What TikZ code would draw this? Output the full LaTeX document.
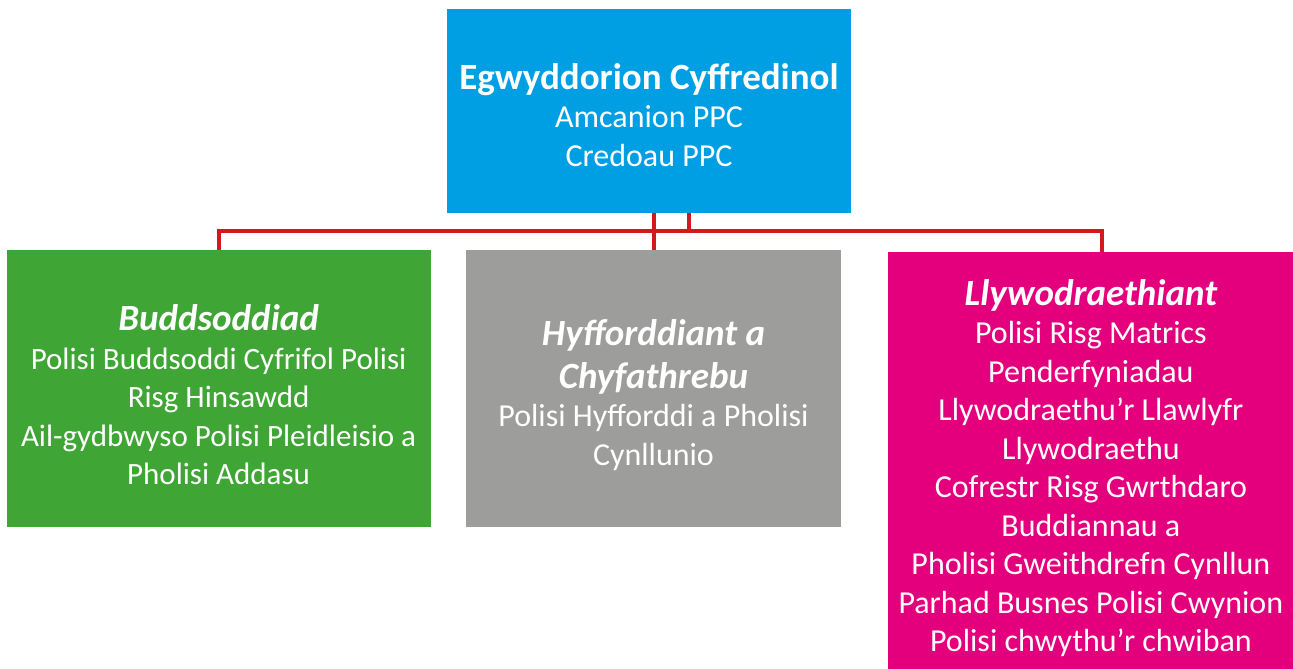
\documentclass[tikz,border=0pt]{standalone}
\usepackage{fontspec}
\setmainfont{Carlito}
\usepackage{xcolor}
\usepackage{tikz}
\usetikzlibrary{positioning}
\definecolor{principlescolor}{RGB}{0, 159, 227}
\definecolor{investcolor}{RGB}{63, 165, 53}
\definecolor{trainingcolor}{RGB}{157, 157, 156}
\definecolor{governcolor}{RGB}{228, 0, 125}
\definecolor{linkcolor}{RGB}{208, 26, 30}
\newcommand{\boxtitle}[1]{{\fontsize{37}{40}\selectfont\bfseries\itshape #1}}
\tikzset{
    org box/.style={rectangle, inner sep=0pt},
    principles box/.style={org box, fill=principlescolor, minimum width=404, minimum height=204},
    invest box/.style={org box, fill=investcolor, minimum width=424, minimum height=277},
    training box/.style={org box, fill=trainingcolor, minimum width=375, minimum height=277},
    govern box/.style={org box, fill=governcolor, minimum width=405, minimum height=417},
    box text/.style={text=white, align=center, inner sep=0pt, font=\fontsize{32}{38.5}\selectfont},
    link/.style={draw=linkcolor, line width=4pt}
}

\begin{document}
\begin{tikzpicture}[x=1pt, y=-1pt]
\useasboundingbox (0,0) rectangle (1293,669);
% Main boxes
\node[principles box] (top) at (649,111) {};
\node[training box, below=37pt of top, xshift=4.5pt] (training) {};
\node[invest box, left=35pt of training] (invest) {};
\node[govern box, right=47pt of training.north east, anchor=north west, yshift=-2pt] (govern) {};

% Box texts
\node[box text] (toptext) at ([yshift=-4pt]top.center) {{\fontsize{37}{40}\selectfont\bfseries Egwyddorion Cyffredinol}\\Amcanion PPC\\Credoau PPC};
\node[box text] (trainingtext) at ([yshift=-6pt]training.center) {\boxtitle{Hyfforddiant a}\\[4pt]\boxtitle{Chyfathrebu}\\Polisi Hyfforddi a Pholisi\\Cynllunio};
\node[box text, font=\fontsize{31}{38.5}\selectfont] (investtext) at ([yshift=-6pt]invest.center) {\boxtitle{Buddsoddiad}\\Polisi Buddsoddi Cyfrifol Polisi\\Risg Hinsawdd\\Ail-gydbwyso Polisi Pleidleisio a\\Pholisi Addasu};
\node[box text] (governtext) at ([yshift=-7pt]govern.center) {\boxtitle{Llywodraethiant}\\Polisi Risg Matrics\\Penderfyniadau\\Llywodraethu’r Llawlyfr\\Llywodraethu\\Cofrestr Risg Gwrthdaro\\Buddiannau a\\Pholisi Gweithdrefn Cynllun\\Parhad Busnes Polisi Cwynion\\Polisi chwythu’r chwiban};

% Connectors
\coordinate (bus) at (0,231);
\coordinate (topout) at ([xshift=40pt]top.south);
\coordinate (governin) at ([xshift=11.5pt]govern.north);
\draw[link] (invest.north) -- (invest.north |- bus) -- (governin |- bus) -- (governin);
\draw[link] (top.south -| training.north) -- (training.north);
\draw[link] (topout) -- (topout |- bus);
\end{tikzpicture}
\end{document}
